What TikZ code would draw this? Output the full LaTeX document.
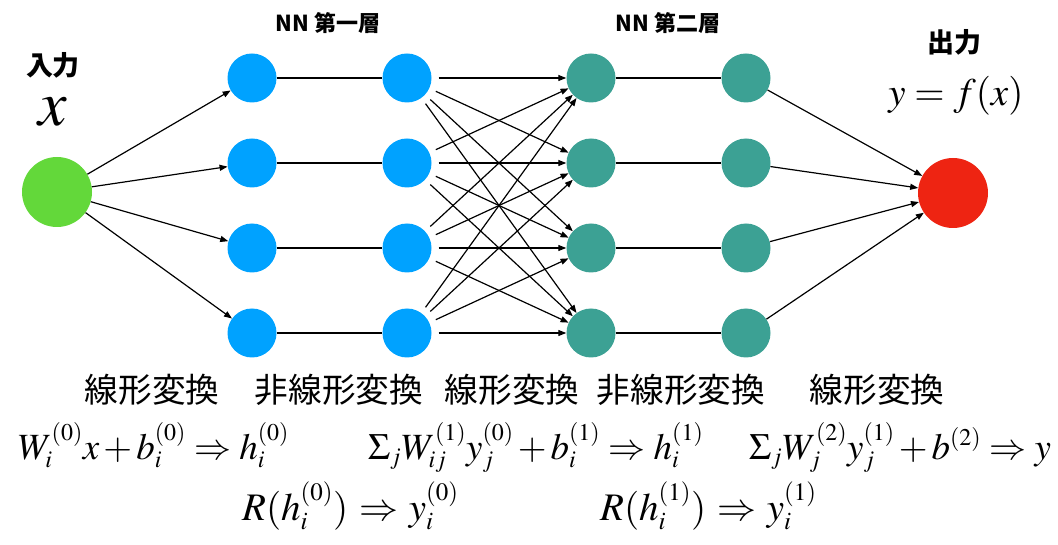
\documentclass[tikz,border=0pt]{standalone}
\usepackage{mathptmx}
\usepackage[no-math]{fontspec}
\newfontfamily\cjk{Noto Sans CJK JP}
\usetikzlibrary{arrows.meta}
\DeclareMathSizes{37}{37}{24}{17}
\DeclareMathSizes{39}{39}{25}{18}
\definecolor{cblue}{RGB}{0,162,255}
\definecolor{cteal}{RGB}{60,161,148}
\definecolor{cgreen}{RGB}{99,216,58}
\definecolor{cred}{RGB}{238,36,18}
\begin{document}
\begin{tikzpicture}[x=1pt,y=-1pt,
  neuron/.style={circle,inner sep=0pt,minimum size=49pt},
  io/.style={circle,inner sep=0pt,minimum size=70pt},
  link/.style={line width=1.2pt,black},
  arr/.style={link,-{Triangle[length=8pt,width=6pt]}},
  title/.style={font=\cjk\bfseries\fontsize{22}{24}\selectfont},
  iolabel/.style={font=\cjk\bfseries\fontsize{27}{30}\selectfont},
  step label/.style={font=\cjk\fontsize{33.7}{38}\selectfont},
  eqn/.style={anchor=base west,inner sep=0pt,
    font={\fontsize{37}{40}\selectfont\medmuskip=2mu\thickmuskip=4mu}},
  eqnb/.style={anchor=base west,inner sep=0pt,
    font={\fontsize{39}{42}\selectfont\thickmuskip=5mu}},
]
\useasboundingbox (0,0) rectangle (1058,545);

\node[io,fill=cgreen] (in) at (57,192) {};
\node[io,fill=cred] (out) at (953,193) {};
\foreach \i/\y in {1/78,2/163,3/248,4/333}{
  \node[neuron,fill=cblue] (a\i) at (252,\y) {};
  \node[neuron,fill=cblue] (b\i) at (407,\y) {};
  \node[neuron,fill=cteal] (c\i) at (591,\y) {};
  \node[neuron,fill=cteal] (d\i) at (746,\y) {};
}
\foreach \i in {1,...,4}{
  \draw[arr] (in) -- (a\i);
  \draw[link] (a\i) -- (b\i);
  \foreach \j in {1,...,4}{
    \draw[arr,shorten <=7pt] (b\i) -- (c\j);
  }
  \draw[link] (c\i) -- (d\i);
  \draw[arr] (d\i) -- (out);
}

\node[title] (t1) at (328,23) {NN 第一層};
\node[title] (t2) at (668,23) {NN 第二層};
\node[iolabel] (inl) at (53,65) {入力};
\node[font=\fontsize{64}{70}\selectfont,inner sep=0pt] (xl) at (53,112) {$x$};
\node[iolabel] (outl) at (954,42) {出力};
\node[font=\fontsize{39}{42}\selectfont,inner sep=0pt] (fx) at (956,96) {$y = f(x)$};

\node[step label] (s1) at (152,390) {線形変換};
\node[step label] (s2) at (339,390) {非線形変換};
\node[step label] (s3) at (512,390) {線形変換};
\node[step label] (s4) at (681,390) {非線形変換};
\node[step label] (s5) at (877,390) {線形変換};

\node[eqn] (e1) at (18,459) {$W_i^{(0)}x + b_i^{(0)} \Rightarrow h_i^{(0)}$};
\node[eqn] (e2) at (368,459) {$\Sigma_j W_{ij}^{(1)} y_j^{(0)} + b_i^{(1)} \Rightarrow h_i^{(1)}$};
\node[eqn] (e3) at (749,459) {$\Sigma_j W_j^{(2)} y_j^{(1)} + b^{(2)} \Rightarrow y$};
\node[eqnb] (e4) at (242,520) {$R(h_i^{(0)}) \Rightarrow y_i^{(0)}$};
\node[eqnb] (e5) at (600,520) {$R(h_i^{(1)}) \Rightarrow y_i^{(1)}$};
\end{tikzpicture}
\end{document}
